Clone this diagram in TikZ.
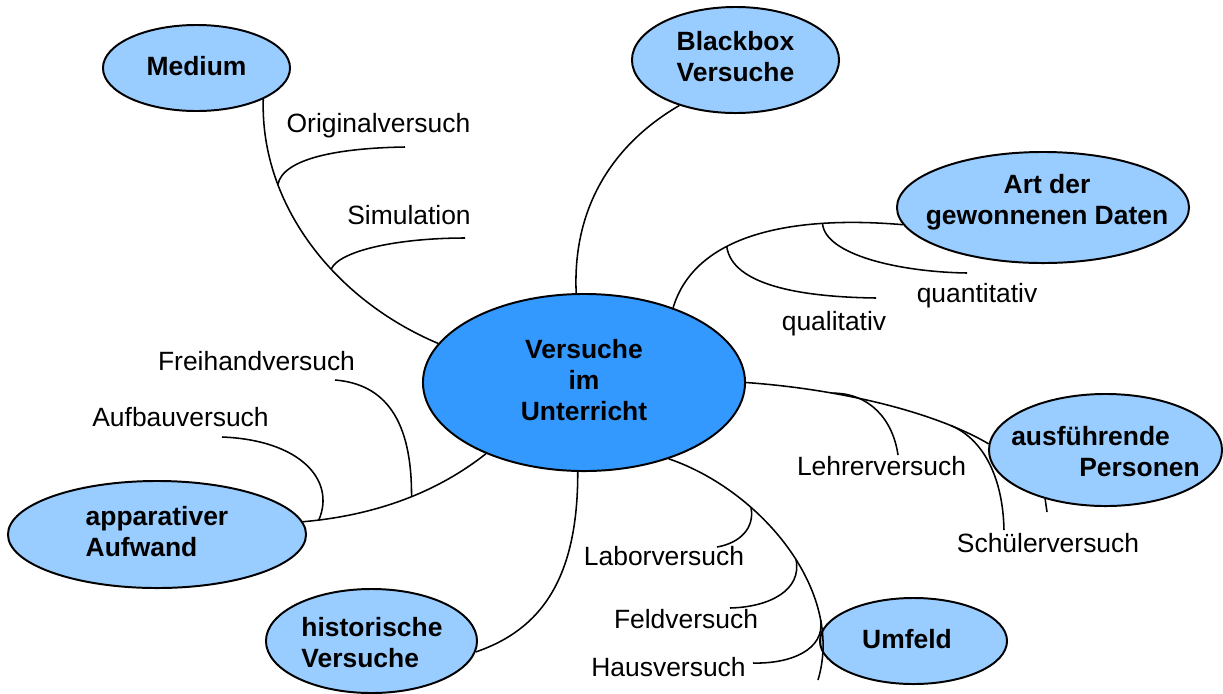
\documentclass[tikz,border=0pt]{standalone}
\usepackage{fontspec}
\setmainfont{Liberation Sans}
\usetikzlibrary{shapes.geometric}

\definecolor{bubblefill}{HTML}{99CCFF}
\definecolor{corefill}{HTML}{3399FF}

\tikzset{
	bubble/.style={ellipse, draw, line width=1.4pt, fill=bubblefill, inner sep=0pt},
	bubbletext/.style={align=center, inner sep=0pt, font=\fontsize{18.8}{22}\selectfont\bfseries},
	twig/.style={line width=1.1pt},
	leaf/.style={inner sep=0pt, text height=0.72em, text depth=0.21em, font=\fontsize{18.8}{22}\selectfont}
}

\begin{document}
\begin{tikzpicture}[x=0.025cm, y=-0.025cm]
	\useasboundingbox (0, 0) rectangle (1223, 693);

	\node (ctr) at (584, 382.5) [bubble, fill=corefill, minimum width=8.05cm, minimum height=4.425cm] {};
	\node (medium) at (196.5, 68) [bubble, minimum width=4.675cm, minimum height=2.15cm] {};
	\node (blackbox) at (735.5, 60) [bubble, minimum width=5.175cm, minimum height=2.65cm] {};
	\node (daten) at (1043, 207.5) [bubble, minimum width=7.3cm, minimum height=2.775cm] {};
	\node (personen) at (1105.5, 450) [bubble, minimum width=5.825cm, minimum height=2.8cm] {};
	\node (aufwand) at (157, 534.5) [bubble, minimum width=7.45cm, minimum height=2.675cm] {};
	\node (historisch) at (371.5, 641) [bubble, minimum width=5.275cm, minimum height=2.6cm] {};
	\node (umfeld) at (913.5, 641) [bubble, minimum width=4.675cm, minimum height=2.15cm] {};

	\node (ctrtxt) at (584, 380) [bubbletext] {Versuche\\im\\Unterricht};
	\node (mediumtxt) at (196.5, 66) [bubbletext] {Medium};
	\node (blackboxtxt) at (735.5, 57) [bubbletext] {Blackbox\\Versuche};
	\node (datentxt) at (1047, 202) [bubbletext] {Art der\\gewonnenen Daten};
	\node (personentxt) at (1105.5, 452) [bubbletext, align=left] {ausführende\\\hspace*{1.7cm}Personen};
	\node (aufwandtxt) at (157, 532) [bubbletext, align=left] {apparativer\\Aufwand};
	\node (historischtxt) at (372, 643) [bubbletext, align=left] {historische\\Versuche};
	\node (umfeldtxt) at (907, 639) [bubbletext] {Umfeld};

	\coordinate (origend) at (405, 147);
	\coordinate (simend) at (465, 238);
	\coordinate (qualend) at (876, 298);
	\coordinate (quantend) at (967, 273);
	\coordinate (lehrerend) at (898, 455);
	\coordinate (schuelerend) at (1004, 530);
	\coordinate (stubend) at (1047, 512);
	\coordinate (umfeldend) at (818, 680);
	\coordinate (laborend) at (717, 547);
	\coordinate (feldend) at (730, 608);
	\coordinate (hausend) at (753, 663);
	\coordinate (freiend) at (335, 380);
	\coordinate (aufbauend) at (222, 437);

	\draw [twig]
		(medium.-25) .. controls (260, 205) and (335, 300) .. (ctr.165)
		coordinate [pos=0.28] (origfork) coordinate [pos=0.6] (simfork);

	\draw [twig]
		(origfork) .. controls (283, 158) and (340, 148) .. (origend);

	\draw [twig]
		(simfork) .. controls (340, 250) and (400, 238) .. (simend);

	\draw [twig]
		(blackbox.-141) .. controls (620, 140) and (572, 200) .. (ctr.95);

	\draw [twig]
		(ctr.40) .. controls (695, 235) and (790, 215) .. (daten.187)
		coordinate [pos=0.38] (qualfork) coordinate [pos=0.75] (quantfork);

	\draw [twig]
		(qualfork) .. controls (732, 285) and (800, 297) .. (qualend);

	\draw [twig]
		(quantfork) .. controls (825, 255) and (900, 272) .. (quantend);

	\draw [twig]
		(ctr.0) .. controls (850, 390) and (940, 415) .. (personen.177)
		coordinate [pos=0.29] (lehrerfork) coordinate [pos=0.78] (schuelerfork);

	\draw [twig]
		(lehrerfork) .. controls (870, 393) and (893, 420) .. (lehrerend);

	\draw [twig]
		(schuelerfork) .. controls (985, 440) and (1003, 480) .. (schuelerend);

	\draw [twig]
		(personen.-141) -- (stubend);

	\draw [twig]
		(ctr.-42) .. controls (760, 490) and (845, 590) .. (umfeldend)
		coordinate [pos=0.32] (laborfork) coordinate [pos=0.55] (feldfork) coordinate [pos=0.78] (hausfork);

	\draw [twig]
		(laborfork) .. controls (755, 528) and (740, 543) .. (laborend);

	\draw [twig]
		(feldfork) .. controls (802, 590) and (770, 607) .. (feldend);

	\draw [twig]
		(hausfork) .. controls (825, 650) and (790, 664) .. (hausend);

	\draw [twig]
		(ctr.-94) .. controls (578, 580) and (540, 630) .. (historisch.-6);

	\draw [twig]
		(aufwand.5) .. controls (380, 515) and (440, 490) .. (ctr.-144)
		coordinate [pos=0.07] (aufbaufork) coordinate [pos=0.53] (freifork);

	\draw [twig]
		(freifork) .. controls (412, 420) and (385, 384) .. (freiend);

	\draw [twig]
		(aufbaufork) .. controls (336, 480) and (300, 440) .. (aufbauend);

	\node (origlabel) at (378.5, 129) [leaf] {Originalversuch};
	\node (simlabel) at (409, 221) [leaf] {Simulation};
	\node (quantlabel) at (977, 299) [leaf] {quantitativ};
	\node (quallabel) at (834, 327) [leaf] {qualitativ};
	\node (lehrerlabel) at (881.5, 472) [leaf] {Lehrerversuch};
	\node (schuelerlabel) at (1048, 549) [leaf] {Schülerversuch};
	\node (laborlabel) at (664, 562) [leaf] {Laborversuch};
	\node (feldlabel) at (686, 625) [leaf] {Feldversuch};
	\node (hauslabel) at (668.5, 673) [leaf] {Hausversuch};
	\node (freilabel) at (256.5, 367) [leaf] {Freihandversuch};
	\node (aufbaulabel) at (180.5, 423) [leaf] {Aufbauversuch};
\end{tikzpicture}
\end{document}
